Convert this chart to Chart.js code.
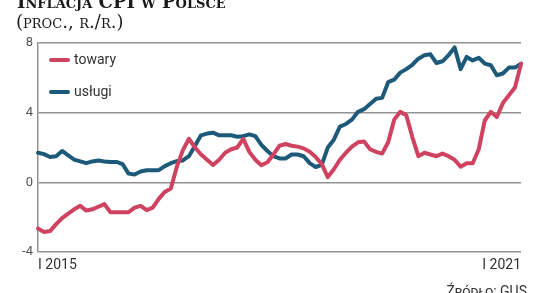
<!DOCTYPE html>
<html>
<head>
<meta charset="utf-8">
<script src="https://cdn.jsdelivr.net/npm/chart.js@4"></script>
<style>
  body { margin: 0; background: #fff; }
  #wrap { position: relative; width: 536px; height: 293px; overflow: hidden; }
  #chart { position: absolute; left: 0; top: 0; }
  .title { position: absolute; left: 17px; top: -9px; line-height: 20px; font: bold 18px "DejaVu Serif", serif; font-variant: small-caps; color: #1a1a1a; white-space: nowrap; }
  .sub { position: absolute; left: 16px; top: 11px; line-height: 20px; font: 18px "DejaVu Serif", serif; font-variant: small-caps; color: #1a1a1a; white-space: nowrap; }
  .src { position: absolute; right: 9px; top: 283px; font: 14px Roboto, sans-serif; font-variant: small-caps; color: #333; white-space: nowrap; }
</style>
</head>
<body>
<div id="wrap">
  <canvas id="chart" width="536" height="293"></canvas>
  <div class="title">Inflacja CPI w Polsce</div>
  <div class="sub">(proc., r./r.)</div>
  <div class="src">Źródło: GUS</div>
</div>
<script>
// miesiace I 2015 - IX 2021
const months = [];
for (let y = 2015; y <= 2021; y++) {
    for (let m = 1; m <= 12; m++) {
        if (y === 2021 && m > 9) break;
        months.push(m + '/' + y);
    }
}

const towary = [
    -2.65, -2.85, -2.8, -2.4, -2.05, -1.8, -1.55, -1.35, -1.62, -1.55, -1.4, -1.25,
    -1.72, -1.72, -1.72, -1.72, -1.45, -1.35, -1.6, -1.45, -0.95, -0.55, -0.35, 0.9,
    1.85, 2.5, 2.0, 1.6, 1.3, 1.0, 1.3, 1.7, 1.9, 2.0, 2.5, 1.75,
    1.3, 0.98, 1.15, 1.6, 2.1, 2.2, 2.1, 2.05, 1.95, 1.75, 1.45, 1.05,
    0.3, 0.75, 1.3, 1.7, 2.05, 2.3, 2.35, 1.9, 1.75, 1.65, 2.3, 3.6,
    4.05, 3.85, 2.6, 1.5, 1.7, 1.6, 1.5, 1.65, 1.5, 1.3, 0.9, 1.1,
    1.1, 1.9, 3.55, 4.05, 3.75, 4.55, 5.0, 5.45, 6.8
];

const uslugi = [
    1.7, 1.62, 1.45, 1.5, 1.8, 1.55, 1.3, 1.2, 1.1, 1.2, 1.25, 1.2,
    1.17, 1.17, 1.05, 0.5, 0.45, 0.62, 0.69, 0.69, 0.7, 0.93, 1.1, 1.22,
    1.26, 1.5, 2.1, 2.7, 2.8, 2.85, 2.7, 2.7, 2.7, 2.62, 2.65, 2.75,
    2.65, 2.15, 1.8, 1.5, 1.37, 1.37, 1.6, 1.6, 1.5, 1.1, 0.88, 1.0,
    2.0, 2.45, 3.2, 3.35, 3.6, 4.05, 4.2, 4.5, 4.8, 4.85, 5.75, 5.9,
    6.3, 6.5, 6.75, 7.1, 7.3, 7.35, 6.85, 6.95, 7.3, 7.75, 6.5, 7.2,
    7.0, 7.15, 6.82, 6.72, 6.15, 6.25, 6.59, 6.59, 6.82
];

const xTickLabels = ['I 2015', 'I 2021'];
const yTicks = [-4, 0, 4, 8];

const inlineLegend = {
    id: 'inlineLegend',
    afterDatasetsDraw(chart) {
        const ctx = chart.ctx;
        chart.data.datasets.forEach((ds, i) => {
            const y = 60 + i * 32;
            ctx.save();
            ctx.strokeStyle = ds.borderColor;
            ctx.lineWidth = 4;
            ctx.lineCap = 'round';
            ctx.beginPath();
            ctx.moveTo(51, y);
            ctx.lineTo(68, y);
            ctx.stroke();
            ctx.fillStyle = '#333';
            ctx.font = '14px Roboto';
            ctx.textBaseline = 'middle';
            ctx.fillText(ds.label, 74, y);
            ctx.restore();
        });
    }
};

new Chart(document.getElementById('chart'), {
    type: 'line',
    data: {
        labels: months,
        datasets: [{
            label: 'towary',
            data: towary,
            borderColor: '#cf4360',
            borderWidth: 4,
            pointRadius: 0,
            borderJoinStyle: 'round',
            borderCapStyle: 'round'
        }, {
            label: 'usługi',
            data: uslugi,
            borderColor: '#1d5a7a',
            borderWidth: 4,
            pointRadius: 0,
            borderJoinStyle: 'round',
            borderCapStyle: 'round'
        }]
    },
    options: {
        responsive: false,
        animation: false,
        layout: { padding: { top: 43, right: 15, left: 0, bottom: 0 } },
        plugins: {
            legend: { display: false },
            tooltip: { enabled: false }
        },
        scales: {
            x: {
                grid: { display: false, drawTicks: false },
                border: { display: false },
                afterBuildTicks: axis => {
                    axis.ticks = [{ value: 0 }, { value: months.length - 1 }];
                },
                afterFit: axis => { axis.height = 41; },
                ticks: {
                    autoSkip: false,
                    maxRotation: 0,
                    align: 'inner',
                    padding: 5,
                    color: '#333',
                    font: { family: 'Roboto', size: 14 },
                    callback: (value, index) => xTickLabels[index]
                }
            },
            y: {
                min: yTicks[0],
                max: yTicks[yTicks.length - 1],
                afterBuildTicks: axis => {
                    axis.ticks = yTicks.map(v => ({ value: v }));
                },
                afterFit: axis => { axis.width = 38; },
                grid: { color: '#929292', lineWidth: 1.5, drawTicks: false },
                border: { color: '#929292', width: 1.5 },
                ticks: {
                    padding: 5,
                    color: '#555',
                    font: { family: 'Roboto', size: 13 }
                }
            }
        }
    },
    plugins: [inlineLegend]
});
</script>
</body>
</html>
